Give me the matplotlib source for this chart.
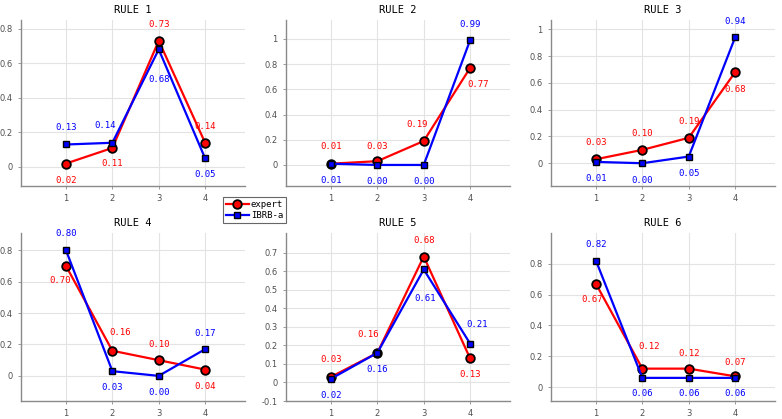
import matplotlib
matplotlib.use("Agg")
import matplotlib.pyplot as plt
import numpy as np

# ---- data ----
x = [1, 2, 3, 4]
titles = ["RULE 1", "RULE 2", "RULE 3", "RULE 4", "RULE 5", "RULE 6"]
expert = [
    [0.02, 0.11, 0.73, 0.14],
    [0.01, 0.03, 0.19, 0.77],
    [0.03, 0.10, 0.19, 0.68],
    [0.70, 0.16, 0.10, 0.04],
    [0.03, 0.16, 0.68, 0.13],
    [0.67, 0.12, 0.12, 0.07],
]
ibrb = [
    [0.13, 0.14, 0.68, 0.05],
    [0.01, 0.00, 0.00, 0.99],
    [0.01, 0.00, 0.05, 0.94],
    [0.80, 0.03, 0.00, 0.17],
    [0.02, 0.16, 0.61, 0.21],
    [0.82, 0.06, 0.06, 0.06],
]
series_names = ["expert", "IBRB-a"]

# ---- layout / style ----
ylims = [(-0.11, 0.85), (-0.167, 1.15), (-0.17, 1.07),
         (-0.16, 0.91), (-0.1, 0.807), (-0.09, 1.0)]
yticks = [np.arange(0, 0.81, 0.2), np.arange(0, 1.01, 0.2), np.arange(0, 1.01, 0.2),
          np.arange(0, 0.81, 0.2), np.arange(-0.1, 0.71, 0.1), np.arange(0, 0.81, 0.2)]
# label offsets in pixels (dx, dy)
red_off = [
    [(0, -17), (0, -16), (0, 16), (0, 16)],
    [(0, 17), (0, 15), (-7, 17), (8, -17)],
    [(0, 17), (0, 16), (0, 16), (0, -17)],
    [(-6, -15), (8, 18), (0, 16), (0, -17)],
    [(0, 17), (-9, 18), (0, 16), (0, -16)],
    [(-4, -16), (7, 22), (0, 15), (0, 14)],
]
blue_off = [
    [(0, 17), (-7, 17), (0, -30), (0, -16)],
    [(0, -17), (0, -17), (0, -17), (0, 16)],
    [(0, -17), (0, -17), (0, -17), (0, 16)],
    [(0, 17), (0, -16), (0, -17), (0, 16)],
    [(0, -17), (0, -17), (1, -29), (7, 19)],
    [(0, 16), (0, -16), (0, -16), (0, -16)],
]

W, H = 782, 419
fig = plt.figure(figsize=(W / 100, H / 100), dpi=100)
lefts = [21, 286, 551]
width = 224
rows = [(20, 186), (233, 401)]

mono = "DejaVu Sans Mono"
axes = []
for i in range(6):
    r, c = divmod(i, 3)
    top, bot = rows[r]
    ax = fig.add_axes([lefts[c] / W, 1 - bot / H, width / W, (bot - top) / H])
    axes.append(ax)
    ax.set_xlim(0.03, 4.86)
    ax.set_ylim(*ylims[i])
    ax.set_xticks(x)
    ax.set_yticks(yticks[i])
    ax.set_yticklabels([f"{v:g}" if abs(v) > 1e-9 else "0" for v in yticks[i]])
    ax.grid(True, color="#e3e3e3", linewidth=0.8)
    ax.set_axisbelow(True)
    for s in ["top", "right"]:
        ax.spines[s].set_visible(False)
    for s in ["left", "bottom"]:
        ax.spines[s].set_color("#8a8a8a")
        ax.spines[s].set_linewidth(1.0)
    ax.tick_params(length=2, width=0.6, color="#8a8a8a", labelsize=6,
                   labelcolor="#505050", pad=4)
    ax.set_title(titles[i], fontsize=7.5, family=mono, pad=5)

    l1, = ax.plot(x, expert[i], color="red", lw=1.6, marker="o", ms=6.2,
                  mfc="red", mec="black", mew=1.3, label=series_names[0], zorder=3)
    l2, = ax.plot(x, ibrb[i], color="blue", lw=1.6, marker="s", ms=4.5,
                  mfc="blue", mec="black", mew=1.0, label=series_names[1], zorder=4)
    for j in range(4):
        ax.annotate(f"{expert[i][j]:.2f}", (x[j], expert[i][j]),
                    xytext=red_off[i][j], textcoords="offset pixels",
                    ha="center", va="center", color="red", fontsize=6.5,
                    family=mono, zorder=5)
        ax.annotate(f"{ibrb[i][j]:.2f}", (x[j], ibrb[i][j]),
                    xytext=blue_off[i][j], textcoords="offset pixels",
                    ha="center", va="center", color="blue", fontsize=6.5,
                    family=mono, zorder=5)

leg = fig.legend(handles=[l1, l2], loc="upper left",
                 bbox_to_anchor=(223 / W, 1 - 197 / H),
                 prop={"family": mono, "size": 6.5}, frameon=True,
                 fancybox=False, edgecolor="#404040", handlelength=2.6,
                 borderpad=0.3, labelspacing=0.3, handletextpad=0.2,
                 borderaxespad=0)
leg.get_frame().set_linewidth(0.8)

fig.savefig("out.png", dpi=100)
